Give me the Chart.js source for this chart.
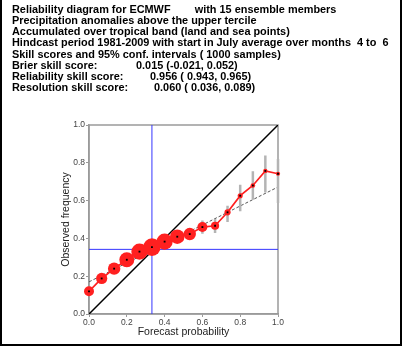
<!DOCTYPE html>
<html><head><meta charset="utf-8">
<script src="https://cdn.jsdelivr.net/npm/chart.js@4/dist/chart.umd.min.js"></script>
<style>html,body{margin:0;padding:0;background:#fff;}canvas{display:block;}</style>
</head><body>
<canvas id="c" width="402" height="346"></canvas>
<script>
const headerLines = [
  "Reliability diagram for ECMWF        with 15 ensemble members",
  "Precipitation anomalies above the upper tercile",
  "Accumulated over tropical band (land and sea points)",
  "Hindcast period 1981-2009 with start in July average over months  4 to  6",
  "Skill scores and 95% conf. intervals ( 1000 samples)"
];
const scoreLabels = ["Brier skill score:", "Reliability skill score:", "Resolution skill score:"];
const scoreValues = ["0.015 (-0.021, 0.052)", "0.956 ( 0.943, 0.965)", "0.060 ( 0.036, 0.089)"];

const forecastProb = [0.000,0.067,0.133,0.200,0.267,0.333,0.400,0.467,0.533,0.600,0.667,0.733,0.800,0.867,0.933,1.000];
const observedFreq = [0.120,0.188,0.240,0.287,0.330,0.354,0.383,0.409,0.423,0.460,0.467,0.538,0.626,0.680,0.757,0.742];
const ciLow  = [0.105,0.175,0.230,0.280,0.323,0.347,0.375,0.398,0.405,0.425,0.429,0.487,0.543,0.605,0.643,0.587];
const ciHigh = [0.135,0.200,0.250,0.295,0.337,0.361,0.391,0.420,0.440,0.495,0.503,0.573,0.684,0.755,0.839,0.820];
const binWeight = [0.042,0.050,0.058,0.075,0.083,0.092,0.083,0.072,0.058,0.042,0.030,0.017,0.010,0.007,0.005,0.004];
const climFreqX = 0.333;
const climFreqY = 0.342;
const regLine = [{x:0, y:0.170},{x:1, y:0.672}];
const axisTicks = [0.0,0.2,0.4,0.6,0.8,1.0];

const pts = forecastProb.map((p,i)=>({x:p, y:observedFreq[i]}));
const errPts = [];
forecastProb.forEach((p,i)=>{ errPts.push({x:p,y:ciLow[i]}); errPts.push({x:p,y:ciHigh[i]}); errPts.push({x:p,y:null}); });
const radii = binWeight.map(w => 1.8 + 76*w);

const FONT = '"Liberation Sans", Arial, sans-serif';
const frame = {
  id:'frame',
  beforeDatasetsDraw(chart){
    const {ctx, chartArea:a} = chart;
    ctx.save();
    ctx.strokeStyle = '#9a9a9a'; ctx.lineWidth = 1.5;
    ctx.strokeRect(a.left, a.top, a.right-a.left, a.bottom-a.top);
    ctx.restore();
  },
  afterDraw(chart){
    const ctx = chart.ctx;
    ctx.save();
    ctx.fillStyle = '#000';
    ctx.textBaseline = 'middle';
    ctx.font = 'bold 10.9px ' + FONT;
    const y0 = 9.5, dy = 11.27;
    headerLines.forEach((t,i)=>ctx.fillText(t, 12, y0+dy*i));
    const valX = [136,150,154];
    scoreLabels.forEach((t,i)=>{
      const y = y0 + dy*(headerLines.length+i);
      ctx.fillText(t, 12, y);
      ctx.fillText(scoreValues[i], valX[i], y);
    });
    ctx.fillRect(0,0,2,346);
    ctx.fillRect(400,0,2,346);
    ctx.fillRect(0,344,402,2);
    ctx.restore();
  }
};

const axisCommon = (title) => ({
  type:'linear', min:0, max:1,
  afterBuildTicks: s => { s.ticks = axisTicks.map(v=>({value:v})); },
  ticks:{ callback:v=>v.toFixed(1), font:{size:8.5, family:FONT}, color:'#444', padding:1, maxRotation:0, autoSkip:false },
  grid:{ display:true, drawOnChartArea:false, tickLength:3, color:'#9a9a9a', lineWidth:1 },
  border:{ display:true, color:'#9a9a9a', width:1.5 },
  title:{ display:true, text:title, font:{size:10.5, family:FONT}, color:'#222', padding:0 }
});

const xAxis = axisCommon('Forecast probability');
xAxis.afterFit = s => { s.height = 24; };
const yAxis = axisCommon('Observed frequency');
yAxis.afterFit = s => { s.width = 29; };

new Chart(document.getElementById('c'), {
  type:'scatter',
  data:{ datasets:[
    { data:pts, showLine:false, pointStyle:'rect', pointRadius:1.3, backgroundColor:'#000', borderWidth:0, clip:false },
    { data:pts, showLine:true, borderColor:'#ff2020', borderWidth:1.7, pointRadius:radii, backgroundColor:'#ff2020', pointBorderWidth:0, clip:false },
    { data:errPts, showLine:true, spanGaps:false, borderColor:'#b4b4b4', borderWidth:2.5, pointRadius:0, clip:false },
    { data:regLine, showLine:true, borderColor:'#555', borderWidth:1, borderDash:[3,2], pointRadius:0 },
    { data:[{x:0,y:0},{x:1,y:1}], showLine:true, borderColor:'#000', borderWidth:1.5, pointRadius:0 },
    { data:[{x:climFreqX,y:0},{x:climFreqX,y:1}], showLine:true, borderColor:'#3535ff', borderWidth:1, pointRadius:0 },
    { data:[{x:0,y:climFreqY},{x:1,y:climFreqY}], showLine:true, borderColor:'#3535ff', borderWidth:1, pointRadius:0 }
  ]},
  options:{
    responsive:false, animation:false, devicePixelRatio:1,
    layout:{ padding:{ left:60, top:125, right:124, bottom:8 } },
    plugins:{ legend:{display:false}, tooltip:{enabled:false} },
    scales:{ x:xAxis, y:yAxis }
  },
  plugins:[frame]
});
</script>
</body></html>
